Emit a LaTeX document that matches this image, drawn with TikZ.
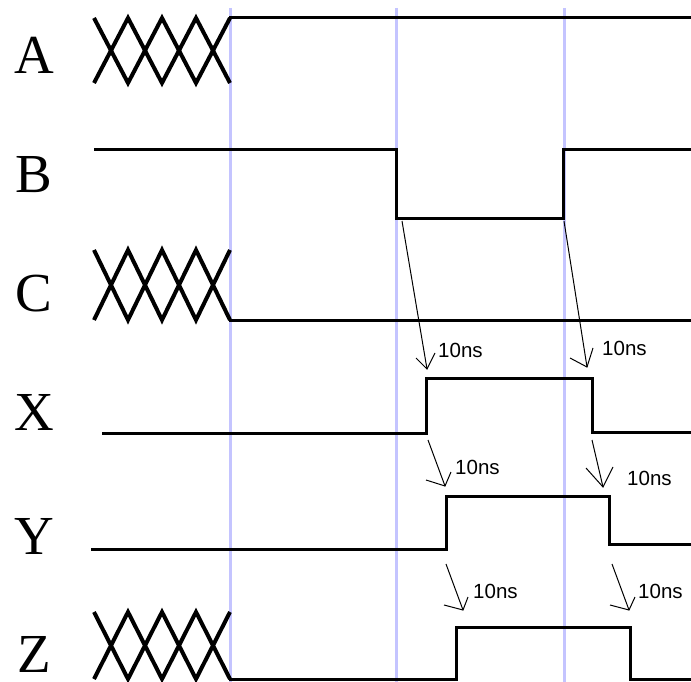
\documentclass[tikz,border=0pt]{standalone}
\usepackage{fontspec}
\setmainfont{Liberation Serif}
\newfontfamily\delayfont{Liberation Sans}
\definecolor{guideblue}{RGB}{196,196,255}

% two out-of-phase zigzags: an undefined (don't care) bus value
\newcommand\unknownbus[2]{%
  \draw[bus] (94,#1) -- (128,#2) -- (162,#1) -- (196,#2) -- (230,#1);
  \draw[bus] (94,#2) -- (128,#1) -- (162,#2) -- (196,#1) -- (230,#2);
}

\begin{document}
\begin{tikzpicture}[x=1pt,y=-1pt,
  sig/.style={line width=3pt, line join=miter, line cap=rect, black},
  bus/.style={line width=4pt, line join=miter, black},
  guide/.style={line width=3pt, draw=guideblue},
  delay/.style={line width=1pt, black},
  siglabel/.style={font=\fontsize{55}{55}\selectfont, inner sep=0pt},
  dlabel/.style={font=\delayfont\fontsize{20.5}{20.5}\selectfont, anchor=west, inner sep=0pt}]

\useasboundingbox (0,0) rectangle (691,682);
\fill[white] (0,0) rectangle (691,682);

% time markers
\draw[guide] (230,8) -- (230,682);
\draw[guide] (396,8) -- (396,682);
\draw[guide] (564,8) -- (564,682);

% signal names
\node[siglabel] (labA) at (34,55)  {A};
\node[siglabel] (labB) at (34,175) {B};
\node[siglabel] (labC) at (34,294) {C};
\node[siglabel] (labX) at (34,412) {X};
\node[siglabel] (labY) at (34,536) {Y};
\node[siglabel] (labZ) at (34,654) {Z};

% A
\unknownbus{18}{83}
\draw[sig] (230,18) -- (691,18);
% B
\draw[sig] (95,150) -- (396,150) -- (396,218) -- (563,218) -- (563,150) -- (691,150);
% C
\unknownbus{250}{320}
\draw[sig] (230,320) -- (691,320);
% X
\draw[sig] (103,433) -- (426,433) -- (426,378) -- (592,378) -- (592,432) -- (691,432);
% Y
\draw[sig] (92,549) -- (446,549) -- (446,496) -- (609,496) -- (609,544) -- (691,544);
% Z
\unknownbus{612}{679}
\draw[sig] (230,679) -- (456,679) -- (456,627) -- (630,627) -- (630,679) -- (691,679);

% delay arrows: start, tip, and the two barbs of the open head
\coordinate (s1) at (402,221); \coordinate (t1) at (427,369);
\coordinate (l1) at (416,358); \coordinate (r1) at (435,353);
\coordinate (s2) at (564,221); \coordinate (t2) at (587,367);
\coordinate (l2) at (570,358); \coordinate (r2) at (593,348);
\coordinate (s3) at (428,440); \coordinate (t3) at (445,486);
\coordinate (l3) at (426,480); \coordinate (r3) at (451,472);
\coordinate (s4) at (592,440); \coordinate (t4) at (603,487);
\coordinate (l4) at (586,468); \coordinate (r4) at (613,467);
\coordinate (s5) at (446,564); \coordinate (t5) at (463,610);
\coordinate (l5) at (444,605); \coordinate (r5) at (468,597);
\coordinate (s6) at (612,564); \coordinate (t6) at (629,610);
\coordinate (l6) at (610,605); \coordinate (r6) at (635,597);

\foreach \i in {1,...,6} {
  \draw[delay] (s\i) -- (t\i);
  \draw[delay] (l\i) -- (t\i) -- (r\i);
}

% delay values
\node[dlabel] (d1) at (438,350) {10ns};
\node[dlabel] (d2) at (602,348) {10ns};
\node[dlabel] (d3) at (455,467) {10ns};
\node[dlabel] (d4) at (627,478) {10ns};
\node[dlabel] (d5) at (473,591) {10ns};
\node[dlabel] (d6) at (638,591) {10ns};

\end{tikzpicture}
\end{document}
